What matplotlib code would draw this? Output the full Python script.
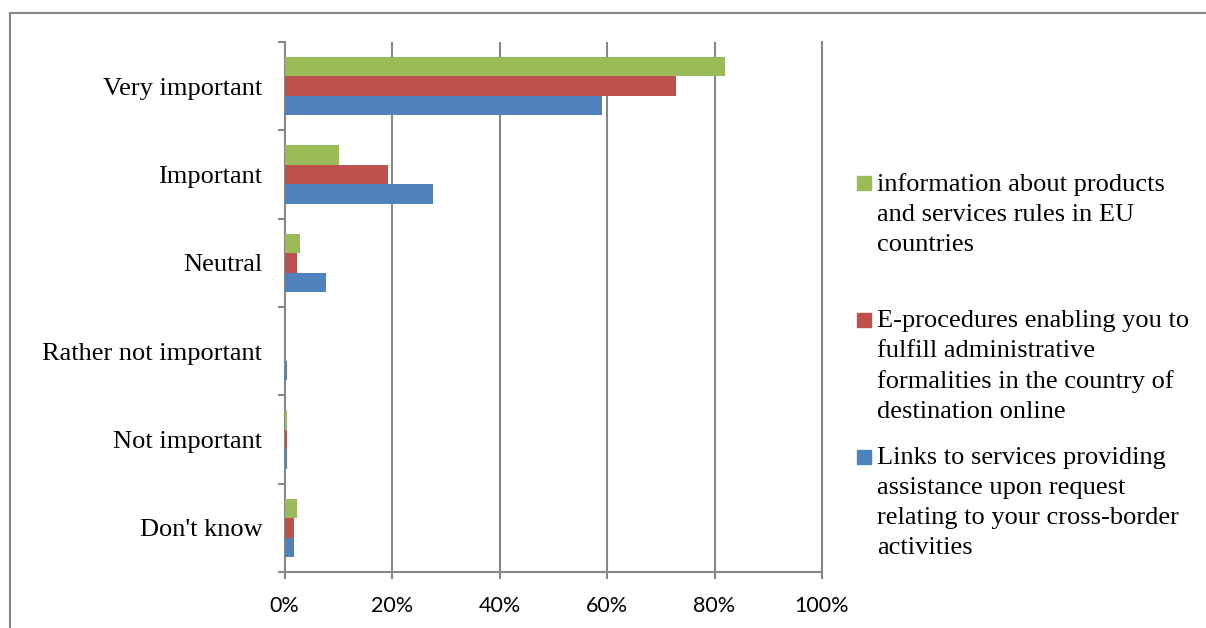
import matplotlib
matplotlib.use('Agg')

import numpy as np
import matplotlib.pyplot as plt
from matplotlib.lines import Line2D

GREY = '#878787'
SERIF = 'Liberation Serif'
SANS = 'Lato'

categories = ["Don't know", 'Not important', 'Rather not important',
              'Neutral', 'Important', 'Very important']

# shares per answer, bottom category first
links_services = [0.018, 0.005, 0.005, 0.077, 0.276, 0.591]
e_procedures = [0.018, 0.005, 0.0, 0.023, 0.193, 0.729]
info_rules = [0.023, 0.005, 0.0, 0.029, 0.101, 0.820]

series_names = [
    'information about products\nand services rules in EU\ncountries',
    'E-procedures enabling you to\nfulfill administrative\nformalities in the country of\ndestination online',
    'Links to services providing\nassistance upon request\nrelating to your cross-border\nactivities',
]
colors = ['#9BBB59', '#C0504D', '#4F81BD']
xticks = [0, 0.2, 0.4, 0.6, 0.8, 1.0]
xtick_labels = ['0%', '20%', '40%', '60%', '80%', '100%']

W, H = 1206, 628
fig = plt.figure(figsize=(W / 100, H / 100), dpi=100)
ax = fig.add_axes([284.5 / W, 1 - 572 / H, (822 - 284.5) / W, 530 / H])

y = np.arange(len(categories))
h = 0.22
ax.barh(y - h, links_services, height=h, color=colors[2], zorder=3)
ax.barh(y, e_procedures, height=h, color=colors[1], zorder=3)
ax.barh(y + h, info_rules, height=h, color=colors[0], zorder=3)

ax.set_xlim(0, 1)
ax.set_ylim(-0.5, len(categories) - 0.5)

ax.set_xticks(xticks)
ax.set_xticklabels(xtick_labels, fontsize=15.5, family=SANS)
ax.tick_params(axis='x', length=5, width=1.5, color=GREY, pad=12)

ax.set_yticks(y)
ax.set_yticklabels(categories, fontsize=19, family=SERIF)
ax.set_yticks(np.arange(-0.5, len(categories)), minor=True)
ax.tick_params(axis='y', which='major', length=0, pad=16)
ax.tick_params(axis='y', which='minor', length=5, width=1.5, color=GREY)

for x in xticks[1:-1]:
    ax.axvline(x, color=GREY, lw=1.5, zorder=1)

for side in ['left', 'bottom', 'right']:
    ax.spines[side].set_color(GREY)
    ax.spines[side].set_linewidth(1.5)
ax.spines['top'].set_visible(False)

# legend, laid out by hand
legend_rows = [183, 320, 457]
for name, color, yc in zip(series_names, colors, legend_rows):
    fig.patches.append(plt.Rectangle((857 / W, 1 - (yc + 7) / H), 14 / W, 14 / H,
                                     transform=fig.transFigure, color=color))
    fig.text(877 / W, 1 - (yc - 10) / H, name, family=SERIF, fontsize=19,
             va='top', ha='left', linespacing=1.47)

# outer frame
fig.lines.append(Line2D([10 / W, 1], [1 - 13 / H, 1 - 13 / H], color=GREY, lw=1.5,
                        transform=fig.transFigure))
fig.lines.append(Line2D([10 / W, 10 / W], [0, 1 - 13 / H], color=GREY, lw=1.5,
                        transform=fig.transFigure))

fig.savefig('out.png', dpi=100)
